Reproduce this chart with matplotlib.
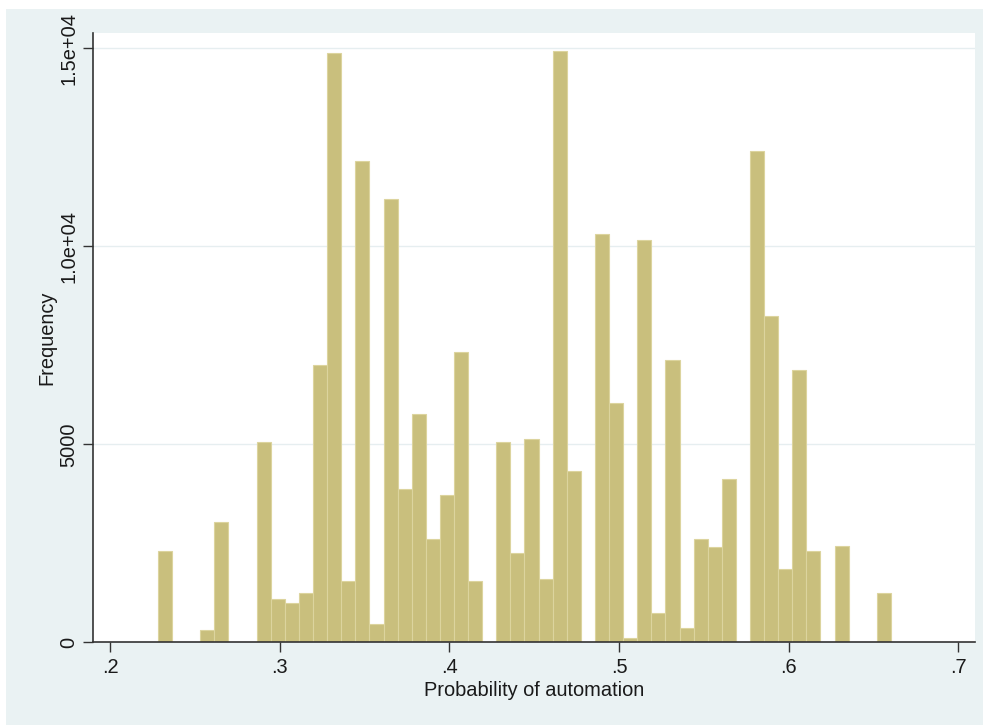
import matplotlib
matplotlib.use("Agg")
import matplotlib.pyplot as plt
from matplotlib.patches import Rectangle
import numpy as np

plt.rcParams['font.family'] = ['Liberation Sans', 'DejaVu Sans']

# Histogram data
bin_start = 0.2283
bin_width = 0.008308
counts = [2300, 0, 0, 300, 3050, 0, 0, 5050, 1100, 1000,
          1250, 7000, 14880, 1550, 12150, 450, 11200, 3870, 5760, 2600,
          3720, 7320, 1550, 0, 5050, 2250, 5140, 1600, 14920, 4330,
          0, 10300, 6050, 100, 10150, 750, 7140, 350, 2600, 2400,
          4120, 0, 12400, 8250, 1850, 6880, 2300, 0, 2420, 0,
          0, 1250]
xticks = [0.2, 0.3, 0.4, 0.5, 0.6, 0.7]
xtick_labels = ['.2', '.3', '.4', '.5', '.6', '.7']
yticks = [0, 5000, 10000, 15000]
ytick_labels = ['0', '5000', '1.0e+04', '1.5e+04']
xlabel = 'Probability of automation'
ylabel = 'Frequency'

W, H = 983, 725
fig = plt.figure(figsize=(W / 100, H / 100), dpi=100, facecolor='white')
# bluish outer background (Stata s2color)
fig.patches.append(Rectangle((6 / W, 0), 1 - 6 / W, 1 - 9 / H,
                             transform=fig.transFigure, facecolor='#EAF2F3',
                             edgecolor='none', zorder=-10))

left, right = 93.3 / W, 975 / W
bottom, top = 1 - 642.3 / H, 1 - 33 / H
ax = fig.add_axes([left, bottom, right - left, top - bottom])
ax.set_facecolor('white')

edges = bin_start + bin_width * np.arange(len(counts))
ax.bar(edges, counts, width=bin_width, align='edge', color='#C9BF7D',
       edgecolor='#DCD49E', linewidth=0.8, zorder=3)

ax.set_xlim(0.19016, 0.70985)
ax.set_ylim(0, 15386)

for y in yticks[1:]:
    ax.axhline(y, color='#E6EEF0', linewidth=1.0, zorder=1)

ax.set_xticks(xticks)
ax.set_xticklabels(xtick_labels)
ax.set_yticks(yticks)
ax.set_yticklabels(ytick_labels, rotation=90, va='center')

for s in ['top', 'right']:
    ax.spines[s].set_visible(False)
for s in ['left', 'bottom']:
    ax.spines[s].set_color('#333333')
    ax.spines[s].set_linewidth(1.2)
    ax.spines[s].set_zorder(5)

ax.tick_params(axis='both', direction='out', length=7, width=1.0,
               color='#333333', labelsize=14.4, labelcolor='#1a1a1a')
ax.tick_params(axis='x', pad=4)
ax.tick_params(axis='y', pad=4)

ax.set_xlabel(xlabel, fontsize=14.4, color='#1a1a1a', labelpad=3)
ax.set_ylabel(ylabel, fontsize=14.4, color='#1a1a1a', labelpad=2)

fig.savefig('out.png', dpi=100, facecolor=fig.get_facecolor())
